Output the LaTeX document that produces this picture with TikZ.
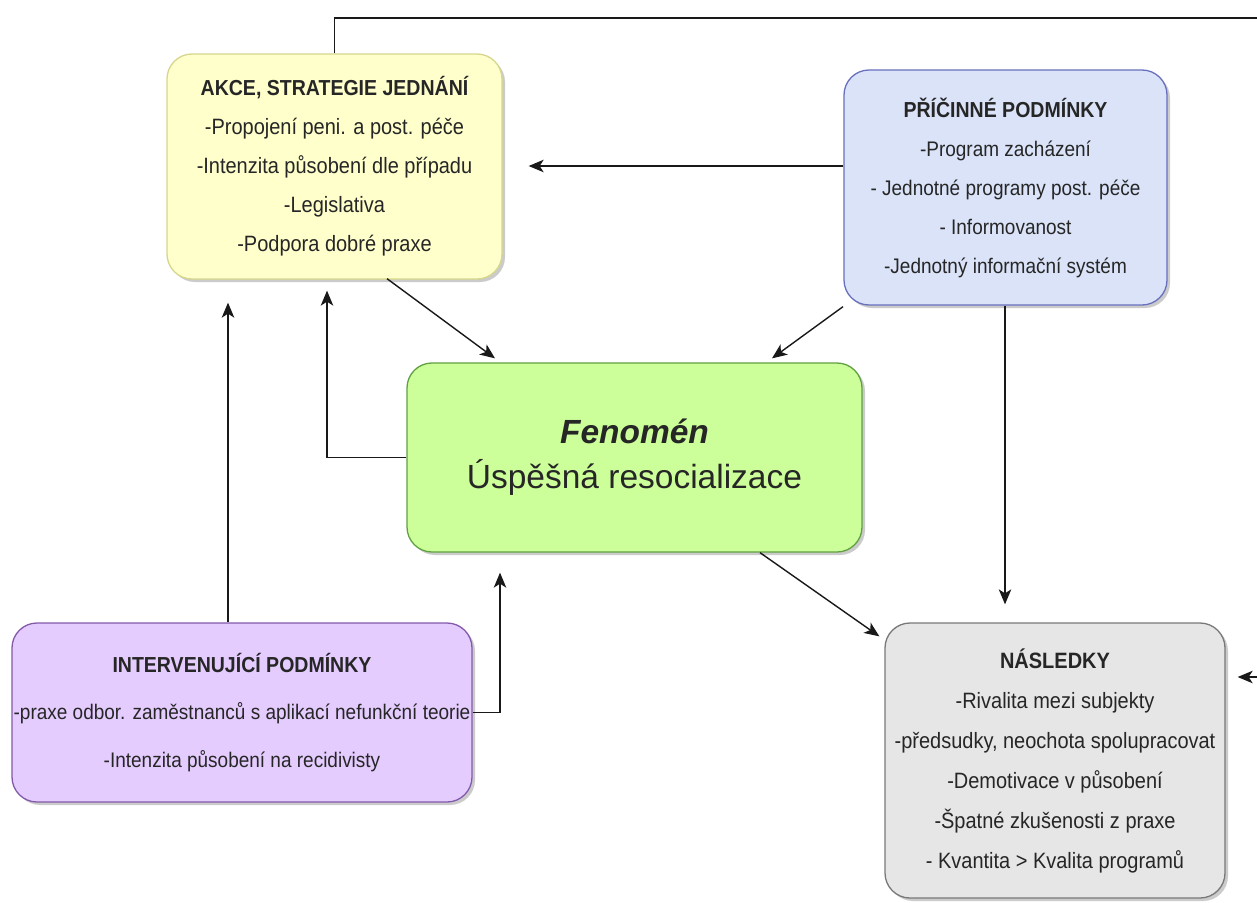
\documentclass[tikz,border=0pt]{standalone}
\usepackage{fontspec}
\setmainfont{Liberation Sans}
\newfontfamily\narrow{Liberation Sans}[FakeStretch=0.9]
\usetikzlibrary{arrows.meta,shadows,calc}
\definecolor{txt}{RGB}{38,38,38}
\definecolor{yfill}{RGB}{255,255,204}
\definecolor{ydraw}{RGB}{214,214,140}
\definecolor{bfill}{RGB}{218,227,248}
\definecolor{bdraw}{RGB}{104,112,190}
\definecolor{gfill}{RGB}{204,255,153}
\definecolor{gdraw}{RGB}{96,160,64}
\definecolor{pfill}{RGB}{229,204,255}
\definecolor{pdraw}{RGB}{130,90,170}
\definecolor{nfill}{RGB}{230,230,230}
\definecolor{ndraw}{RGB}{120,120,120}
\tikzset{
  box/.style={draw, rounded corners=25pt, line width=1.3pt, align=center,
    inner sep=0pt, text=txt,
    drop shadow={shadow xshift=3pt, shadow yshift=-3pt, fill=black!40, opacity=0.5}},
  arr/.style={-{Stealth[length=15pt,width=12.5pt,inset=4pt]}, line width=1.4pt, draw=black!90}
}
\begin{document}
\begin{tikzpicture}[x=1pt,y=-1pt]
\path[use as bounding box, clip] (0,0) rectangle (1257,902);
\fill[white] (0,0) rectangle (1257,902);

\node[box, fill=yfill, draw=ydraw, minimum width=335pt, minimum height=225pt,
  font=\narrow\fontsize{22.2}{39}\selectfont] (akce) at (334.5,166.5)
  {{\bfseries\fontsize{21.7}{39}\selectfont AKCE, STRATEGIE JEDNÁNÍ}\\
   -Propojení peni. a post. péče\\
   -Intenzita působení dle případu\\
   -Legislativa\\
   -Podpora dobré praxe};

\node[box, fill=bfill, draw=bdraw, minimum width=323pt, minimum height=235pt,
  font=\narrow\fontsize{21.1}{39}\selectfont] (pric) at (1005.5,187.5)
  {{\bfseries\fontsize{21.7}{39}\selectfont PŘÍČINNÉ PODMÍNKY}\\
   -Program zacházení\\
   - Jednotné programy post. péče\\
   - Informovanost\\
   -Jednotný informační systém};

\node[box, fill=gfill, draw=gdraw, minimum width=455pt, minimum height=189pt,
  font=\fontsize{33.5}{45}\selectfont] (fen) at (634.5,457.5)
  {{\bfseries\itshape Fenomén}\\
   Úspěšná resocializace};

\node[box, fill=pfill, draw=pdraw, minimum width=460pt, minimum height=179pt,
  font=\narrow\fontsize{21.1}{47.5}\selectfont] (interv) at (242,712.5)
  {{\bfseries\fontsize{21.7}{47.5}\selectfont INTERVENUJÍCÍ PODMÍNKY}\\
   -praxe odbor. zaměstnanců s aplikací nefunkční teorie\\
   -Intenzita působení na recidivisty};

\node[box, fill=nfill, draw=ndraw, minimum width=340pt, minimum height=275pt,
  font=\narrow\fontsize{22.2}{40}\selectfont] (nasl) at (1055,760.5)
  {{\bfseries\fontsize{22.2}{40}\selectfont NÁSLEDKY}\\
   -Rivalita mezi subjekty\\
   -předsudky, neochota spolupracovat\\
   -Demotivace v působení\\
   -Špatné zkušenosti z praxe\\
   - Kvantita > Kvalita programů};

\coordinate (loopa) at (1290,18);

% connectors
\draw[arr, shorten >=26pt] ([yshift=21.5pt]pric.west) -- ([yshift=21.5pt]pric.west -| akce.east);
\draw[arr] ([xshift=52.5pt,yshift=1pt]akce.south) -- ([xshift=-139.5pt,yshift=4pt]fen.north);
\draw[arr] ([xshift=-162.5pt,yshift=-1pt]pric.south) -- ([xshift=137.5pt,yshift=4pt]fen.north);
\draw[arr, shorten >=11pt] (fen.west) -| ([xshift=-7.5pt]akce.south);
\draw[arr, shorten >=23pt] ([xshift=-14pt]interv.north) -- ([xshift=-14pt]interv.north |- akce.south);
\draw[arr, shorten >=20pt] (interv.east) -| ([xshift=-134.5pt]fen.south);
\draw[arr] ([xshift=125.5pt]fen.south) -- ([xshift=-5pt,yshift=-14pt]nasl.north west);
\draw[arr, shorten >=18pt] ([xshift=-0.5pt]pric.south) -- ([xshift=-0.5pt]pric.south |- nasl.north);
\draw[arr, shorten >=12pt] (akce.north) |- (loopa) |- ([yshift=83.5pt]nasl.east);
\end{tikzpicture}
\end{document}
